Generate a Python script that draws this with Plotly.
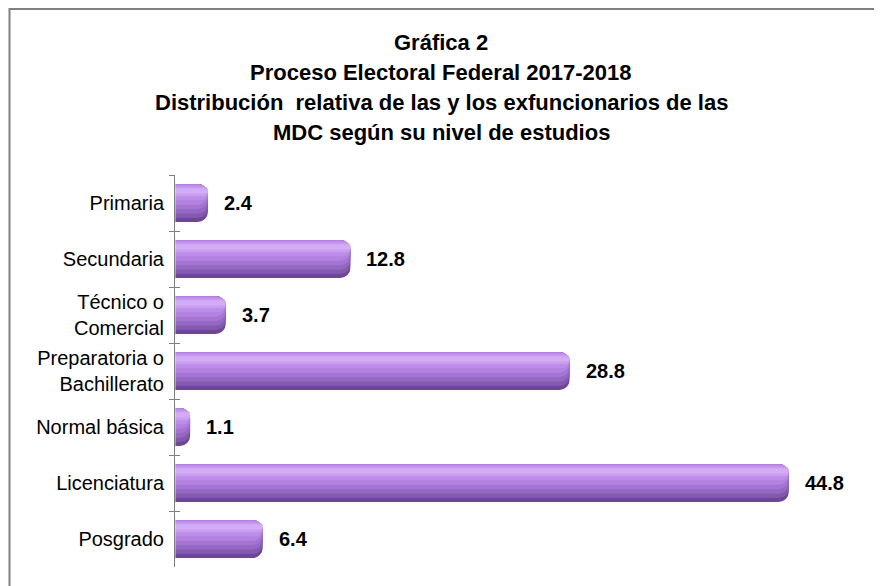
import plotly.graph_objects as go

categories = ["Primaria", "Secundaria", "Técnico o<br>Comercial", "Preparatoria o<br>Bachillerato",
              "Normal básica", "Licenciatura", "Posgrado"]
values = [2.4, 12.8, 3.7, 28.8, 1.1, 44.8, 6.4]
value_labels = ["2.4", "12.8", "3.7", "28.8", "1.1", "44.8", "6.4"]

title_lines = ["Gráfica 2", "Proceso Electoral Federal 2017-2018",
               "Distribución  relativa de las y los exfuncionarios de las",
               "MDC según su nivel de estudios"]

FONT = "Liberation Sans, Arial, sans-serif"

# figure geometry (page has an 8px body margin)
W, H = 874, 578
L, R, T, B = 167, 22, 167, 19
PW, PH = W - L - R, H - T - B

# layered bars to imitate the cylindrical shading
layers = [
    dict(offset=-0.34, width=0.68, color="#6E4794"),
    dict(offset=-0.34, width=0.61, color="#8259AC"),
    dict(offset=-0.34, width=0.53, color="#9467C3"),
    dict(offset=-0.34, width=0.45, color="#A474D4"),
    dict(offset=-0.34, width=0.37, color="#B382E0"),
    dict(offset=-0.32, width=0.27, color="#BE8DE9"),
    dict(offset=-0.29, width=0.17, color="#C89CF1"),
    dict(offset=-0.26, width=0.09, color="#D2ADF6"),
]

fig = go.Figure()
for ly in layers:
    fig.add_trace(go.Bar(
        x=values, y=categories, orientation="h",
        offset=ly["offset"], width=ly["width"],
        marker=dict(color=ly["color"], line=dict(width=0)),
        hoverinfo="skip", showlegend=False,
    ))
# invisible trace carrying the second axis (for crossing tick marks)
fig.add_trace(go.Bar(x=[0] * len(categories), y=categories, orientation="h", yaxis="y2",
                     marker=dict(color="rgba(0,0,0,0)"), hoverinfo="skip", showlegend=False))

annotations = []
for c, v, t in zip(categories, values, value_labels):
    annotations.append(dict(x=v, y=c, xref="x", yref="y", text=t, showarrow=False,
                            xanchor="left", xshift=14,
                            font=dict(family=FONT, size=20, color="#000000", weight="bold")))

title_centers_y = [34, 64, 94, 124]  # pixel rows of the title lines
for line, yc in zip(title_lines, title_centers_y):
    annotations.append(dict(x=(433 - L) / PW, y=1.0, xref="paper", yref="paper",
                            yanchor="middle", yshift=T - yc, xanchor="center",
                            text=line, showarrow=False,
                            font=dict(family=FONT, size=22, color="#000000", weight="bold")))

axis_common = dict(autorange="reversed", type="category", tickson="boundaries",
                   ticklen=5, tickcolor="#808080", tickwidth=1, showgrid=False)

fig.update_layout(
    width=W, height=H,
    margin=dict(l=L, r=R, t=T, b=B),
    paper_bgcolor="white", plot_bgcolor="white",
    barmode="overlay", barcornerradius=10,
    annotations=annotations,
    xaxis=dict(range=[0, 50], visible=False, fixedrange=True),
    yaxis=dict(**axis_common, ticks="outside",
               showline=True, linecolor="#808080", linewidth=1,
               tickfont=dict(family=FONT, size=20, color="#000000"),
               ticklabelstandoff=6),
    yaxis2=dict(**axis_common, ticks="inside", overlaying="y", side="left",
                showticklabels=False, showline=False),
    shapes=[dict(type="rect", xref="paper", yref="paper",
                 x0=(1.5 - L) / PW, x1=1.2, y0=-0.2, y1=(PH + T - 1) / PH,
                 line=dict(color="#808080", width=2), layer="below")],
)

fig.write_html("out.html")
